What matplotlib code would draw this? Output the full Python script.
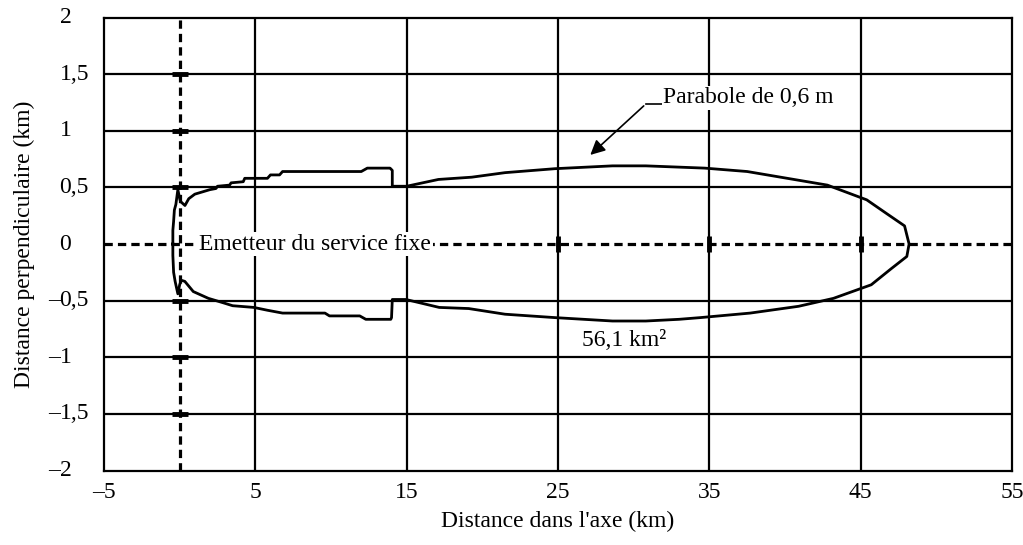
import numpy as np
import matplotlib
matplotlib.use('Agg')
from matplotlib import pyplot as plt

# contour (km)
x_upper = [-0.45, -0.45, -0.4, -0.35, -0.25, -0.12, 0.02, 0.1, 0.35, 0.6, 1.0, 1.5, 2.0, 2.4, 2.5,
           3.3, 3.4, 4.2, 4.3, 5.8, 6.0, 6.6, 6.8, 12.0, 12.4, 13.9, 14.05, 14.05, 15.0, 17.1,
           19.3, 21.5, 24.8, 28.6, 30.8, 34.7, 37.5, 42.8, 45.4, 46.7, 47.9, 48.2]
y_upper = [0.0, 0.12, 0.2, 0.3, 0.35, 0.48, 0.39, 0.37, 0.34, 0.4, 0.44, 0.46, 0.48, 0.49, 0.51,
           0.52, 0.54, 0.55, 0.58, 0.58, 0.61, 0.61, 0.64, 0.64, 0.67, 0.67, 0.65, 0.51, 0.51, 0.57,
           0.59, 0.63, 0.665, 0.69, 0.69, 0.67, 0.64, 0.52, 0.39, 0.27, 0.16, 0.0]

x_lower = [48.2, 48.05, 47.0, 45.7, 43.2, 40.9, 37.7, 34.4, 33.0, 30.8, 28.6, 24.8, 21.5, 19.1,
           17.15, 14.95, 14.05, 14.0, 13.95, 12.3, 11.9, 9.9, 9.6, 6.8, 5.8, 4.9, 3.5, 2.9, 1.9,
           0.9, 0.34, 0.1, 0.0, -0.12, -0.3, -0.4, -0.45, -0.45]
y_lower = [0.0, -0.11, -0.22, -0.36, -0.48, -0.55, -0.61, -0.65, -0.665, -0.68, -0.68, -0.65,
           -0.62, -0.57, -0.56, -0.49, -0.49, -0.65, -0.665, -0.665, -0.635, -0.635, -0.61, -0.61,
           -0.585, -0.56, -0.545, -0.52, -0.48, -0.42, -0.33, -0.32, -0.36, -0.44, -0.33, -0.25,
           -0.1, 0.0]

xticks = [-5, 5, 15, 25, 35, 45, 55]
xlabels = ['–5', '5', '15', '25', '35', '45', '55']
yticks = [-2, -1.5, -1, -0.5, 0, 0.5, 1, 1.5, 2]
ylabels = ['–2', '–1,5', '–1', '–0,5', '0', '0,5', '1', '1,5', '2']

plt.rcParams['font.family'] = ['Liberation Serif', 'DejaVu Serif']
fs = 17

fig = plt.figure(figsize=(10.23, 5.45), dpi=100)
ax = fig.add_axes([104/1023, 1 - 470.5/545, 908/1023, 453/545])
ax.set_xlim(-5, 55)
ax.set_ylim(-2, 2)

# grid
for xv in xticks[1:-1]:
    ax.axvline(xv, color='k', lw=1.6, zorder=1)
for yv in yticks[1:-1]:
    if yv != 0:
        ax.axhline(yv, color='k', lw=1.6, zorder=1)

# dashed axes through the transmitter
ax.axvline(0, color='k', lw=2.3, dashes=(2.6, 1.6), zorder=2)
ax.axhline(0, color='k', lw=2.3, dashes=(2.6, 1.6), zorder=2)
ax.plot([0] * 6, [-1.5, -1, -0.5, 0.5, 1, 1.5], ls='none', marker='_', ms=11, mew=3.5, color='k', zorder=3)
ax.plot([5, 15, 25, 35, 45], [0] * 5, ls='none', marker='|', ms=11, mew=3.5, color='k', zorder=3)

# contour
cx = x_upper + x_lower
cy = y_upper + y_lower
ax.plot(cx, cy, color='k', lw=2, zorder=4)

for s in ax.spines.values():
    s.set_linewidth(1.6)

ax.set_xticks(xticks)
ax.set_xticklabels(xlabels, fontsize=fs)
ax.set_yticks(yticks)
ax.set_yticklabels([])
ax.tick_params(length=0, pad=8)

# y labels: digits aligned on the left, minus hanging out
trans = ax.get_yaxis_transform()
for yv, lab in zip(yticks, ylabels):
    if lab.startswith('–'):
        ax.text(-0.049, yv, '–', transform=trans, ha='right', va='center', fontsize=fs)
        lab = lab[1:]
    ax.text(-0.049, yv, lab, transform=trans, ha='left', va='center', fontsize=fs)

ax.set_xlabel("Distance dans l'axe (km)", fontsize=fs, labelpad=6)
ax.text(-0.088, 0.5, 'Distance perpendiculaire (km)', transform=ax.transAxes,
        rotation=90, ha='center', va='center', fontsize=fs)

ax.text(1.3, 0, 'Emetteur du service fixe', fontsize=fs, ha='left', va='center', zorder=5,
        bbox=dict(facecolor='white', edgecolor='none', pad=1))
ax.text(29.4, -0.85, '56,1 km²', fontsize=fs, ha='center', va='center', zorder=5)

ax.plot([30.8, 31.95], [1.236, 1.236], color='k', lw=1.2, zorder=5)
ax.annotate('', xy=(27.0, 0.77), xytext=(30.8, 1.236),
            arrowprops=dict(arrowstyle='-|>', color='k', lw=1.2, mutation_scale=22), zorder=5)
ax.text(31.95, 1.29, 'Parabole de 0,6 m', fontsize=fs, ha='left', va='center', zorder=5,
        bbox=dict(facecolor='white', edgecolor='none', pad=1))

plt.savefig('out.png', dpi=100)
